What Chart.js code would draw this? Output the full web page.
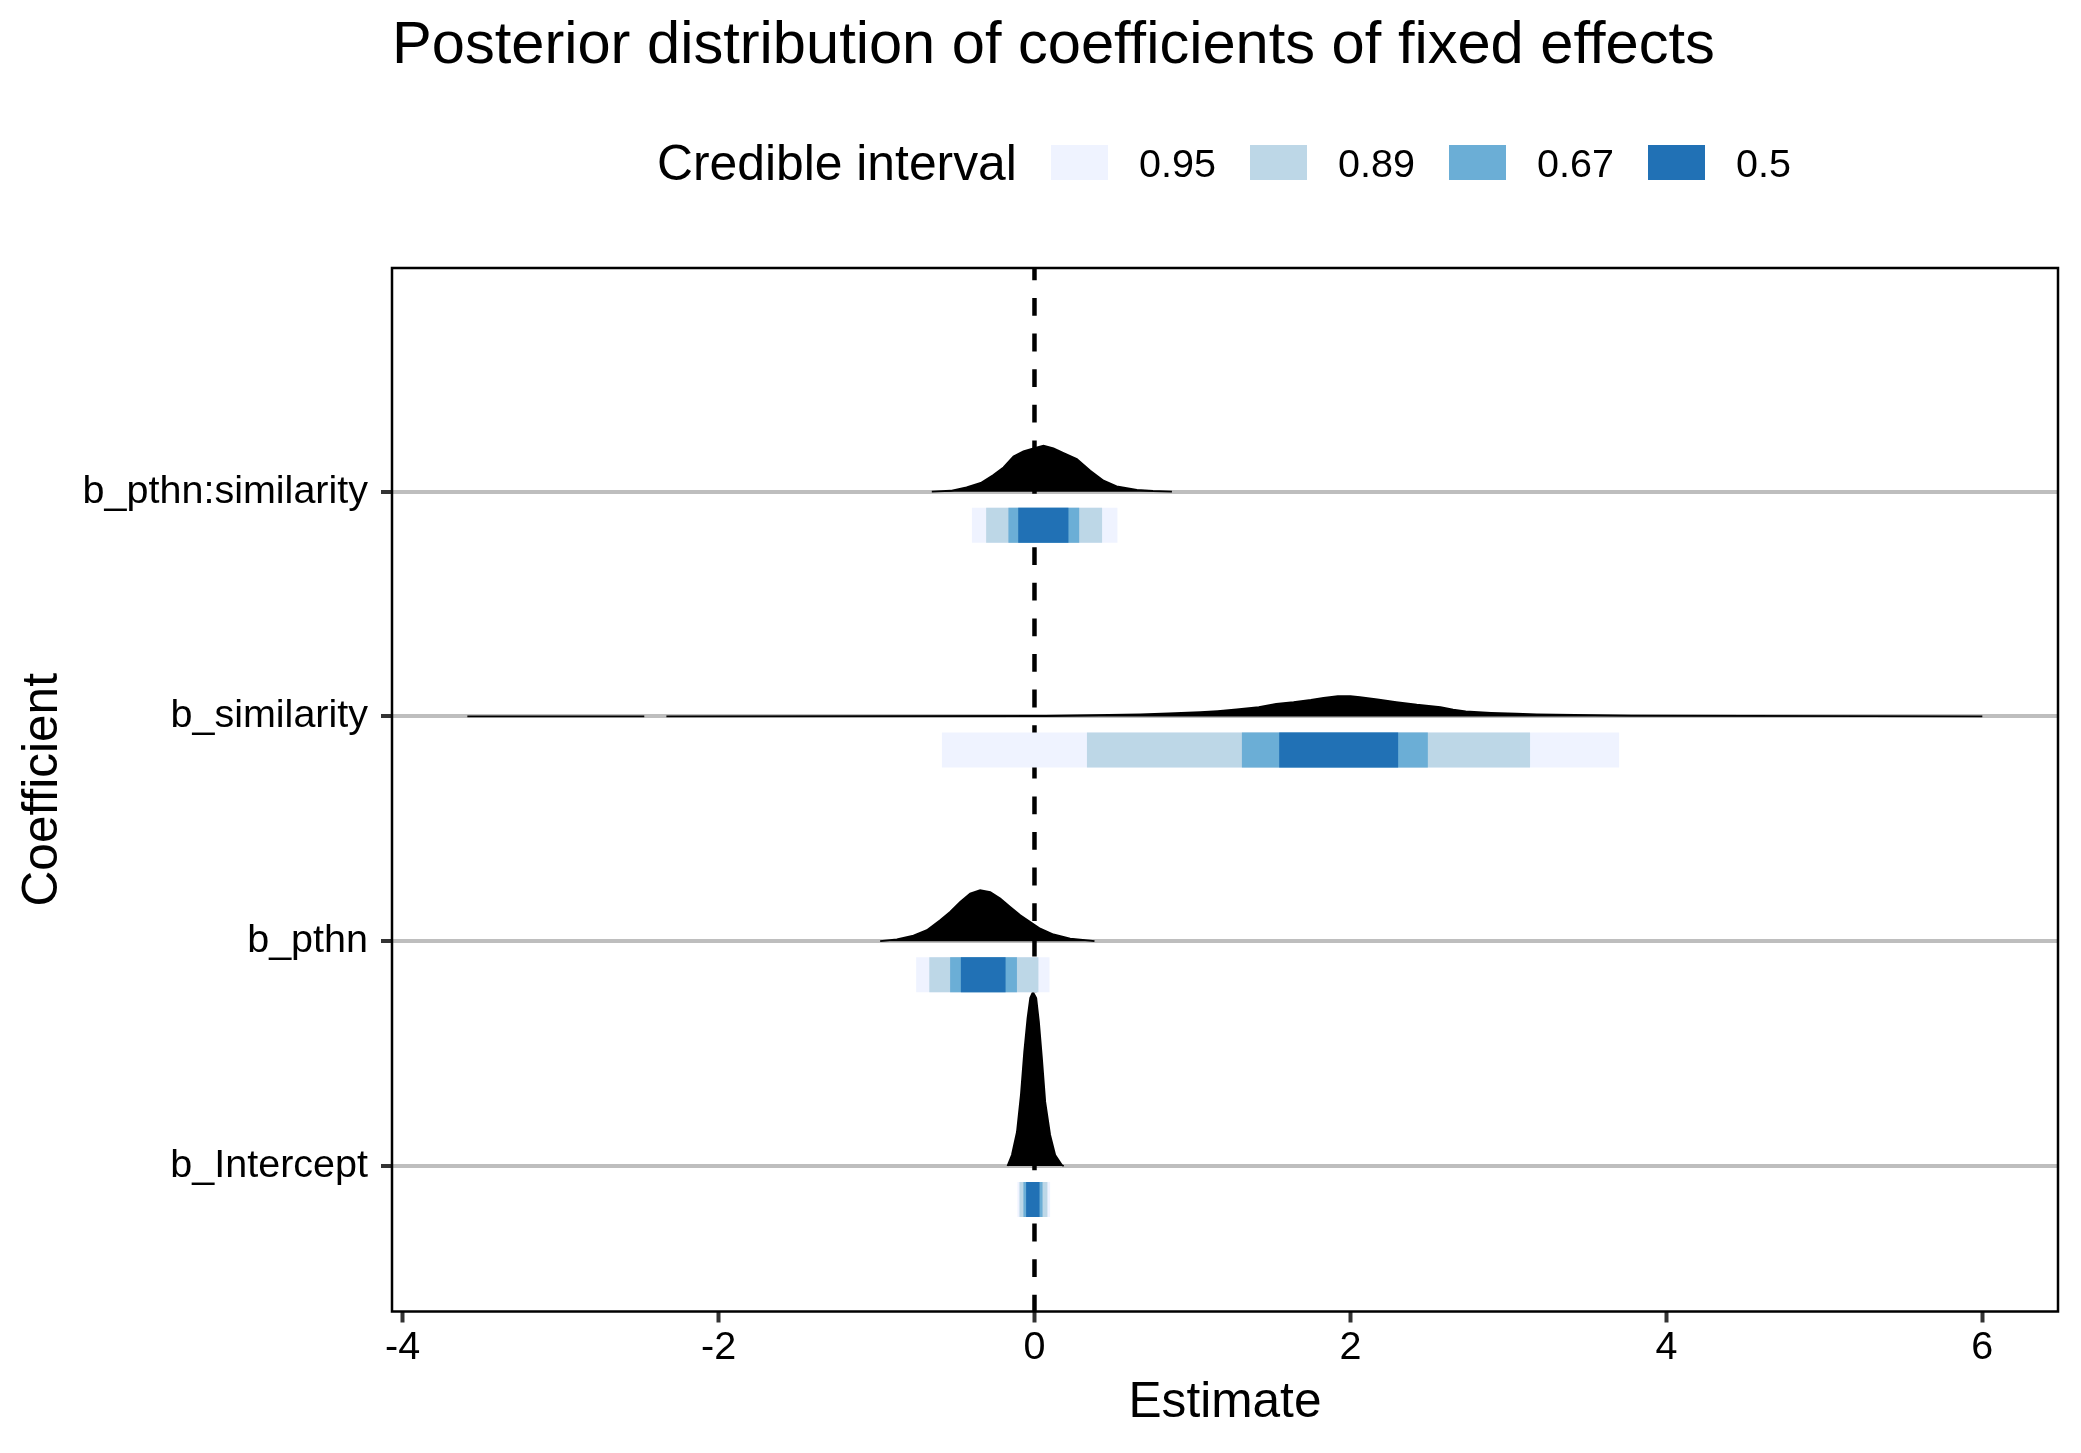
<!DOCTYPE html>
<html>
<head>
<meta charset="utf-8">
<title>Posterior distribution of coefficients of fixed effects</title>
<script src="https://cdn.jsdelivr.net/npm/chart.js@4.4.1/dist/chart.umd.min.js"></script>
<style>
  html, body { margin: 0; padding: 0; background: #ffffff; }
  #wrap { width: 2081px; height: 1453px; }
</style>
</head>
<body>
<div id="wrap"><canvas id="ridges" width="2081" height="1453"></canvas></div>
<script>
// rows bottom to top
const coefficients = ['b_Intercept', 'b_pthn', 'b_similarity', 'b_pthn:similarity'];
const xTicks = [-4, -2, 0, 2, 4, 6];
const zeroLine = 0;

// credible intervals, one value per coefficient (same order as above)
const levels = ['0.95', '0.89', '0.67', '0.5'];
const lo95 = [-0.108, -0.749, -0.586, -0.396];
const hi95 = [0.099, 0.095, 3.701, 0.525];
const lo89 = [-0.095, -0.666, 0.332, -0.306];
const hi89 = [0.082, 0.025, 3.137, 0.428];
const lo67 = [-0.070, -0.534, 1.313, -0.165];
const hi67 = [0.051, -0.111, 2.490, 0.283];
const lo50 = [-0.053, -0.466, 1.549, -0.103];
const hi50 = [0.032, -0.183, 2.302, 0.215];

// posterior densities (x, ridge height in row units)
const interceptX = [-0.171, -0.143, -0.111, -0.086, -0.065, -0.044, -0.027, -0.010, 0.011, 0.028, 0.047, 0.068, 0.099, 0.131, 0.173, 0.185];
const interceptH = [0, 0.049, 0.151, 0.316, 0.507, 0.658, 0.747, 0.774, 0.747, 0.641, 0.480, 0.285, 0.138, 0.049, 0.004, 0];
const pthnX = [-0.977, -0.871, -0.766, -0.681, -0.597, -0.534, -0.470, -0.407, -0.344, -0.280, -0.217, -0.154, -0.090, -0.027, 0.036, 0.120, 0.226, 0.353, 0.380];
const pthnH = [0, 0.008, 0.025, 0.049, 0.093, 0.130, 0.175, 0.212, 0.227, 0.219, 0.190, 0.153, 0.116, 0.086, 0.056, 0.030, 0.012, 0.003, 0];
const similarityX = [-3.59, -2.47, -2.40, -2.33, 0.07, 0.67, 0.85, 1.05, 1.16, 1.28, 1.42, 1.53, 1.64, 1.75, 1.83, 1.92, 2.00, 2.06, 2.17, 2.29, 2.42, 2.57, 2.65, 2.73, 2.89, 3.05, 3.18, 3.78, 6.00];
const similarityH = [0, 0, null, 0, 0.002, 0.009, 0.013, 0.019, 0.024, 0.031, 0.041, 0.056, 0.064, 0.074, 0.083, 0.090, 0.090, 0.086, 0.076, 0.064, 0.052, 0.041, 0.030, 0.022, 0.016, 0.012, 0.009, 0.004, 0];
const interactionX = [-0.65, -0.53, -0.43, -0.34, -0.26, -0.196, -0.133, -0.070, -0.006, 0.057, 0.120, 0.184, 0.268, 0.353, 0.437, 0.520, 0.648, 0.750, 0.870];
const interactionH = [0, 0.004, 0.019, 0.039, 0.074, 0.108, 0.157, 0.179, 0.193, 0.205, 0.193, 0.172, 0.145, 0.093, 0.049, 0.024, 0.008, 0.003, 0];

const levelColors = ['#eff3ff', '#bdd7e7', '#6baed6', '#2171b5'];
const FONT = '"Liberation Sans", Arial, Helvetica, sans-serif';
const barOffset = 0.149;   // interval bar sits just under each ridge
const yMin = 0.3527, yMax = 4.995;

const densityRows = [
    [interceptX, interceptH],
    [pthnX, pthnH],
    [similarityX, similarityH],
    [interactionX, interactionH]
];

const intervalSets = [[lo95, hi95], [lo89, hi89], [lo67, hi67], [lo50, hi50]];

const datasets = [];

// interval bars: thick butt-capped segments, narrower levels on top
intervalSets.forEach(([lo, hi], k) => {
    const pts = [];
    coefficients.forEach((c, i) => {
        const y = i + 1 - barOffset;
        pts.push({ x: lo[i], y: y }, { x: hi[i], y: y }, { x: hi[i], y: null });
    });
    datasets.push({
        label: levels[k],
        data: pts,
        borderColor: levelColors[k],
        borderWidth: 35,
        borderCapStyle: 'butt',
        pointRadius: 0,
        fill: false,
        spanGaps: false,
        order: 3 - k
    });
});

// ridges
densityRows.forEach(([xs, hs], i) => {
    const row = i + 1;
    datasets.push({
        label: coefficients[i],
        data: xs.map((x, j) => ({ x: x, y: hs[j] === null ? null : row + hs[j] })),
        borderColor: '#000000',
        backgroundColor: '#000000',
        borderWidth: 1.8,
        pointRadius: 0,
        fill: { value: row },
        spanGaps: false,
        order: 4
    });
});

// dashed reference line at zero
datasets.push({
    label: 'zero',
    data: [{ x: zeroLine, y: yMax }, { x: zeroLine, y: yMin }],
    borderColor: '#000000',
    borderWidth: 4.5,
    borderDash: [17.8, 17.8],
    borderDashOffset: 5.6,
    pointRadius: 0,
    fill: false,
    order: 5
});

// panel border + ggplot-style legend (title left of the keys)
const ridgeDecor = {
    id: 'ridgeDecor',
    afterDatasetsDraw(chart) {
        const { ctx, chartArea: a } = chart;
        ctx.save();
        ctx.strokeStyle = '#000000';
        ctx.lineWidth = 2.5;
        ctx.strokeRect(a.left, a.top, a.right - a.left, a.bottom - a.top);
        ctx.restore();
    },
    afterDraw(chart) {
        const ctx = chart.ctx;
        ctx.save();
        ctx.textBaseline = 'alphabetic';
        ctx.textAlign = 'left';
        ctx.fillStyle = '#000000';
        ctx.font = '49.8px ' + FONT;
        ctx.fillText('Credible interval', 657, 180);
        ctx.font = '39.5px ' + FONT;
        levels.forEach((lv, i) => {
            const x = 1051 + i * 199;
            ctx.fillStyle = levelColors[i];
            ctx.fillRect(x, 145, 57, 35);
            ctx.fillStyle = '#000000';
            ctx.fillText(lv, x + 88, 177);
        });
        ctx.restore();
    }
};

new Chart(document.getElementById('ridges'), {
    type: 'line',
    data: { datasets: datasets },
    options: {
        responsive: false,
        devicePixelRatio: 1,
        animation: false,
        events: [],
        layout: { padding: { left: 0, right: 23, top: 0, bottom: 0 } },
        plugins: {
            legend: { display: false },
            tooltip: { enabled: false },
            title: {
                display: true,
                text: 'Posterior distribution of coefficients of fixed effects',
                align: 'start',
                fullSize: false,
                color: '#000000',
                font: { family: FONT, size: 59.6, weight: 'normal', lineHeight: 1 },
                padding: { top: 17, bottom: 191.4 }
            }
        },
        scales: {
            x: {
                type: 'linear',
                min: -4.067,
                max: 6.479,
                afterBuildTicks: s => { s.ticks = xTicks.map(v => ({ value: v })); },
                afterFit: s => { s.height = 141.5; },
                grid: {
                    drawOnChartArea: false,
                    drawTicks: true,
                    tickLength: 11,
                    tickColor: '#333333',
                    tickWidth: 4
                },
                border: { display: false },
                ticks: {
                    color: '#000000',
                    padding: 2,
                    maxRotation: 0,
                    font: { family: FONT, size: 39.5 }
                },
                title: {
                    display: true,
                    text: 'Estimate',
                    color: '#000000',
                    font: { family: FONT, size: 49.6, lineHeight: 1 },
                    padding: { top: 0, bottom: 25 }
                }
            },
            y: {
                type: 'linear',
                min: yMin,
                max: yMax,
                afterBuildTicks: s => { s.ticks = coefficients.map((c, i) => ({ value: i + 1 })); },
                afterFit: s => { s.width = 392; },
                grid: {
                    color: '#bebebe',
                    lineWidth: 4,
                    drawTicks: true,
                    tickLength: 11,
                    tickColor: '#333333',
                    tickWidth: 4
                },
                border: { display: false },
                ticks: {
                    color: '#000000',
                    padding: 13,
                    font: { family: FONT, size: 39.5 },
                    callback: v => coefficients[Math.round(v) - 1]
                },
                title: {
                    display: true,
                    text: 'Coefficient',
                    color: '#000000',
                    font: { family: FONT, size: 49.6, lineHeight: 1 },
                    padding: { top: 19, bottom: 0 }
                }
            }
        }
    },
    plugins: [ridgeDecor]
});
</script>
</body>
</html>
